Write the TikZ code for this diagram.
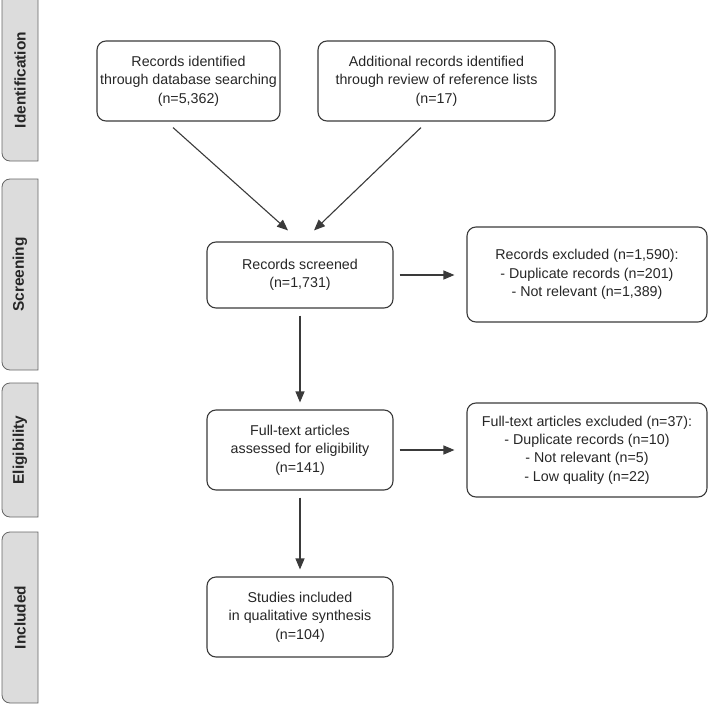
\documentclass[tikz,border=0pt]{standalone}
\usepackage{fontspec}
\setmainfont{Liberation Sans}
\usetikzlibrary{arrows.meta}
\definecolor{tabgray}{HTML}{DCDCDC}
\definecolor{linegray}{HTML}{3A3A3A}
\begin{document}
\begin{tikzpicture}[x=1bp, y=-1bp,
  box/.style={draw=linegray, line width=1.1bp, rounded corners=9bp, align=center, inner sep=0pt, text=black!85, font=\fontsize{14.3}{18.5}\selectfont},
  arr/.style={draw=linegray, line width=1.1bp, -{Triangle[length=11bp,width=9bp]}},
  tab/.style={draw=black!60, fill=tabgray, line width=0.8bp},
  tablabel/.style={rotate=90, text=black!85, font=\fontsize{15.5}{18}\selectfont\bfseries}]
\useasboundingbox (0,0) rectangle (711,705);

% stage tabs
\draw[tab] (38,-20) -- (10,-20) arc[start angle=270,end angle=180,radius=8] -- (2,153) arc[start angle=180,end angle=90,radius=8] -- (38,161) -- cycle;
\draw[tab] (38,179) -- (10,179) arc[start angle=270,end angle=180,radius=8] -- (2,362) arc[start angle=180,end angle=90,radius=8] -- (38,370) -- cycle;
\draw[tab] (38,383) -- (10,383) arc[start angle=270,end angle=180,radius=8] -- (2,509) arc[start angle=180,end angle=90,radius=8] -- (38,517) -- cycle;
\draw[tab] (38,532) -- (10,532) arc[start angle=270,end angle=180,radius=8] -- (2,695) arc[start angle=180,end angle=90,radius=8] -- (38,703) -- cycle;

\node[tablabel] (tid) at (20,80) {Identification};
\node[tablabel] (tscr) at (20,274.5) {Screening};
\node[tablabel] (telig) at (20,450) {Eligibility};
\node[tablabel] (tincl) at (20,617.5) {Included};

% boxes
\node[box, minimum width=183bp, minimum height=80bp] (dbrec) at (188.5,81) {Records identified\\through database searching\\(n=5,362)};
\node[box, minimum width=237bp, minimum height=80bp] (refrec) at (436.5,81) {Additional records identified\\through review of reference lists\\(n=17)};
\node[box, minimum width=186bp, minimum height=66bp] (screened) at (300,275) {Records screened\\(n=1,731)};
\node[box, minimum width=240bp, minimum height=95bp] (scrout) at (587,274.5) {Records excluded (n=1,590):\\- Duplicate records (n=201)\\- Not relevant (n=1,389)};
\node[box, minimum width=186bp, minimum height=80bp] (fulltext) at (300,450) {Full-text articles\\assessed for eligibility\\(n=141)};
\node[box, minimum width=240bp, minimum height=94bp] (fullout) at (587,450) {Full-text articles excluded (n=37):\\- Duplicate records (n=10)\\- Not relevant (n=5)\\- Low quality (n=22)};
\node[box, minimum width=186bp, minimum height=80bp] (studies) at (300,617) {Studies included\\in qualitative synthesis\\(n=104)};

% arrows
\draw[arr] ([shift={(-15.5,6)}]dbrec.south) -- ([shift={(-12,-11)}]screened.north);
\draw[arr] ([shift={(-15.5,6)}]refrec.south) -- ([shift={(14,-11)}]screened.north);
\draw[arr, shorten <=6bp, shorten >=12bp] (screened.east) -- (screened.east -| scrout.west);
\draw[arr, shorten <=7bp, shorten >=7bp] (screened) -- (fulltext);
\draw[arr, shorten <=6bp, shorten >=12bp] (fulltext.east) -- (fulltext.east -| fullout.west);
\draw[arr, shorten <=7bp, shorten >=7bp] (fulltext) -- (studies);
\end{tikzpicture}
\end{document}
